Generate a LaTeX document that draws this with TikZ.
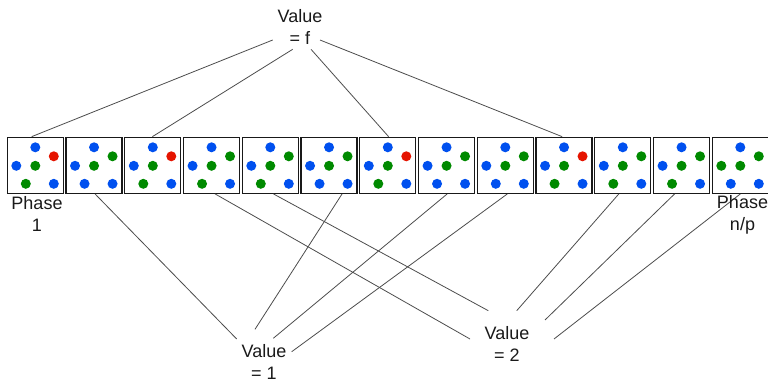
\documentclass[tikz,border=0pt]{standalone}
\usepackage{fontspec}
\setmainfont{Liberation Sans}
\usetikzlibrary{calc}
\definecolor{dblue}{HTML}{0050EF}
\definecolor{dgreen}{HTML}{008A00}
\definecolor{dred}{HTML}{E51400}
\definecolor{txt}{HTML}{1A1A1A}
\begin{document}
\begin{tikzpicture}[x=1pt,y=-1pt,
  cell/.style={draw=black!90, line width=1.3pt, minimum size=56pt, inner sep=0pt, fill=white},
  lbl/.style={align=center, font=\fontsize{18}{22}\selectfont, text=txt, inner sep=0pt},
  link/.style={draw=black!70, line width=0.8pt}]
\useasboundingbox (0,0) rectangle (768,379);
% boxes
\foreach \i in {1,...,13} {
  \node[cell] (b\i) at ({35.3+58.75*(\i-1)},165.3) {};
}
% dots: top / right / left / centre / bottom-left / bottom-right
\foreach \i/\ca/\cb/\cc/\cd/\ce/\cf in {
  1/dblue/dred/dblue/dgreen/dgreen/dblue,
  2/dblue/dgreen/dblue/dgreen/dblue/dblue,
  3/dblue/dred/dblue/dgreen/dgreen/dblue,
  4/dblue/dgreen/dblue/dgreen/dgreen/dblue,
  5/dblue/dgreen/dblue/dgreen/dgreen/dblue,
  6/dblue/dgreen/dblue/dgreen/dblue/dblue,
  7/dblue/dred/dblue/dgreen/dgreen/dblue,
  8/dblue/dgreen/dblue/dgreen/dblue/dblue,
  9/dblue/dgreen/dblue/dgreen/dblue/dblue,
  10/dblue/dred/dblue/dgreen/dgreen/dblue,
  11/dblue/dgreen/dblue/dgreen/dgreen/dblue,
  12/dblue/dgreen/dblue/dgreen/dgreen/dblue,
  13/dblue/dgreen/dgreen/dgreen/dblue/dblue} {
  \fill[\ca] ($(b\i.center)+(0,-18)$) circle (5pt);
  \fill[\cb] ($(b\i.center)+(18.5,-9)$) circle (5pt);
  \fill[\cc] ($(b\i.center)+(-19,0.5)$) circle (5pt);
  \fill[\cd] ($(b\i.center)+(0,0.5)$) circle (5pt);
  \fill[\ce] ($(b\i.center)+(-9.5,18.5)$) circle (5pt);
  \fill[\cf] ($(b\i.center)+(18.5,18.5)$) circle (5pt);
}
% labels
\node[lbl] (vf) at (300,27) {Value\\= f};
\node[lbl] (v1) at (264,362) {Value\\= 1};
\node[lbl] (v2) at (507,344) {Value\\= 2};
% connectors to Value = f
\draw[link] ($(vf.center)+(-27.3,13)$) -- ($(b1.north)+(-3.6,0)$);
\draw[link] ($(vf.center)+(-7.3,22.3)$) -- ($(b3.north)+(-0.4,0)$);
\draw[link] ($(vf.center)+(11,22.3)$) -- ($(b7.north)+(0.8,0)$);
\draw[link] ($(vf.center)+(20,13)$) -- ($(b10.north)+(-1.9,0)$);
% connectors to Value = 1
\draw[link] ($(b2.south)+(1,0)$) -- ($(v1.center)+(-27.3,-23)$);
\draw[link] ($(b6.south)+(13,0)$) -- ($(v1.center)+(-9,-32.7)$);
\draw[link] ($(b8.south)+(0.6,0)$) -- ($(v1.center)+(9.3,-23.7)$);
\draw[link] ($(b9.south)+(2,0)$) -- ($(v1.center)+(27.7,-10.3)$);
% connectors to Value = 2
\draw[link] ($(b4.south)+(3.6,0)$) -- ($(v2.center)+(-37,-5)$);
\draw[link] ($(b5.south)+(3.2,0)$) -- ($(v2.center)+(-18.7,-33.3)$);
\draw[link] ($(b11.south)+(-4,0)$) -- ($(v2.center)+(9.7,-33.3)$);
\draw[link] ($(b12.south)+(-7,0)$) -- ($(v2.center)+(38,-24)$);
\draw[link] ($(b13.south)+(0,0)$) -- ($(v2.center)+(47,-5)$);
% phase labels
\node[lbl] (p1) at (37,214) {Phase\\1};
\node[lbl] (pn) at (742.5,215) {Phase\\n/p};
\end{tikzpicture}
\end{document}
